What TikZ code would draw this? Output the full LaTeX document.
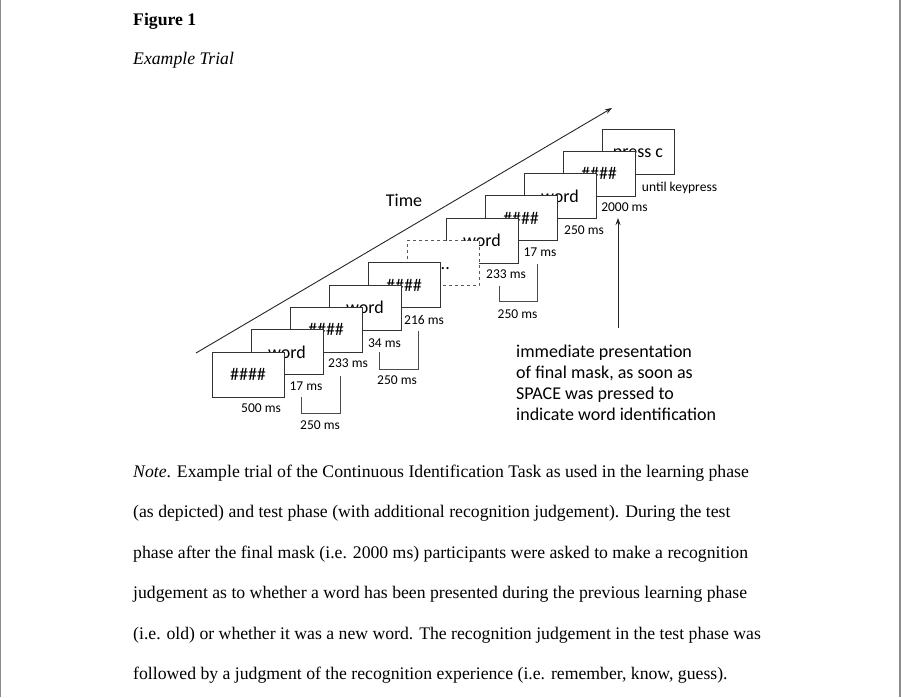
\documentclass[tikz,border=0pt]{standalone}
\usepackage{fontspec}
\setmainfont{Liberation Serif}
\newfontfamily\calfont{Carlito}
\usetikzlibrary{arrows.meta}
\begin{document}
\begin{tikzpicture}[x=1pt,y=-1pt,
  scr/.style={draw=black!80, fill=white, line width=0.9pt, minimum width=72pt, minimum height=45pt, inner sep=0pt, text height=12pt, text depth=0pt, font=\calfont\fontsize{18}{18}\selectfont},
  lbl/.style={font=\calfont\fontsize{13.5}{13.5}\selectfont, inner sep=0pt, anchor=base},
  expl/.style={font=\calfont\fontsize{18}{18}\selectfont, inner sep=0pt, anchor=base west},
  body/.style={font=\fontsize{17.7}{17.7}\selectfont, anchor=base west, inner sep=0pt},
  brk/.style={draw=black!70, line width=0.9pt},
  arr/.style={draw=black!85, line width=0.9pt, -{Stealth[length=7pt,width=5pt]}}]
\useasboundingbox (0,0) rectangle (901,697);
\draw[draw=black!45, line width=1pt] (0.5,0) -- (0.5,697);
\draw[draw=black!45, line width=2pt] (900,0) -- (900,697);
% titles
\node[body, font=\bfseries\fontsize{17.7}{17.7}\selectfont] (fig) at (133,25) {Figure 1};
\node[body, font=\itshape\fontsize{17.7}{17.7}\selectfont] (ttl) at (133,64.5) {Example Trial};
% time arrow
\coordinate (t0) at (196,353);
\coordinate (t1) at (612,108);
\draw[arr] (t0) -- (t1);
\node[font=\calfont\fontsize{18}{18}\selectfont, inner sep=0pt, anchor=base] (time) at (404,206) {Time};
% screens back to front
\node[scr] (s11) at (638,151.5) {press c};
\node[scr] (s10) at (599,173.8) {\#\#\#\#};
\node[scr] (s9) at (560,196.1) {word};
\node[scr] (s8) at (521,218.4) {\#\#\#\#};
\node[scr] (s7) at (482,240.7) {word};
\node[scr, dashed, draw=black!65] (s6) at (443,263) {...};
\node[scr] (s5) at (404,285.3) {\#\#\#\#};
\node[scr] (s4) at (365,307.6) {word};
\node[scr] (s3) at (326,329.9) {\#\#\#\#};
\node[scr] (s2) at (287,352.2) {word};
\node[scr] (s1) at (248,374.5) {\#\#\#\#};
% brackets
\coordinate (b1a) at (301,397); \coordinate (b1b) at (301,413);
\coordinate (b1c) at (340,413); \coordinate (b1d) at (340,376);
\draw[brk] (b1a) -- (b1b) -- (b1c) -- (b1d);
\coordinate (b2a) at (379,352); \coordinate (b2b) at (379,369);
\coordinate (b2c) at (418,369); \coordinate (b2d) at (418,331);
\draw[brk] (b2a) -- (b2b) -- (b2c) -- (b2d);
\coordinate (b3a) at (499,286); \coordinate (b3b) at (499,301);
\coordinate (b3c) at (537,301); \coordinate (b3d) at (537,264);
\draw[brk] (b3a) -- (b3b) -- (b3c) -- (b3d);
% labels
\node[lbl] (l1) at (261,412.5) {500 ms};
\node[lbl] (l2) at (306,390.5) {17 ms};
\node[lbl] (l3) at (320,429.5) {250 ms};
\node[lbl] (l4) at (348,367.5) {233 ms};
\node[lbl] (l5) at (384.5,347.5) {34 ms};
\node[lbl] (l6) at (397,384.5) {250 ms};
\node[lbl] (l7) at (424,324.5) {216 ms};
\node[lbl] (l8) at (506,278.5) {233 ms};
\node[lbl] (l9) at (540,256.5) {17 ms};
\node[lbl] (l10) at (517.5,318.5) {250 ms};
\node[lbl] (l11) at (584,234.5) {250 ms};
\node[lbl] (l12) at (624.5,211.5) {2000 ms};
\node[lbl] (l13) at (679.5,191) {until keypress};
% vertical arrow
\coordinate (v0) at (618,328);
\coordinate (v1) at (618,218);
\draw[arr] (v0) -- (v1);
\node[expl] (e1) at (516,357) {immediate presentation};
\node[expl] (e2) at (516,378) {of final mask, as soon as};
\node[expl] (e3) at (516,399) {SPACE was pressed to};
\node[expl] (e4) at (516,420) {indicate word identification};
% note
\node[body] (n1) at (133,477) {\textit{Note}. Example trial of the Continuous Identification Task as used in the learning phase};
\node[body] (n2) at (133,517.5) {(as depicted) and test phase (with additional recognition judgement). During the test};
\node[body] (n3) at (133,558) {phase after the final mask (i.e. 2000 ms) participants were asked to make a recognition};
\node[body] (n4) at (133,598.5) {judgement as to whether a word has been presented during the previous learning phase};
\node[body] (n5) at (133,639) {(i.e. old) or whether it was a new word. The recognition judgement in the test phase was};
\node[body] (n6) at (133,679.5) {followed by a judgment of the recognition experience (i.e. remember, know, guess).};
\end{tikzpicture}
\end{document}
